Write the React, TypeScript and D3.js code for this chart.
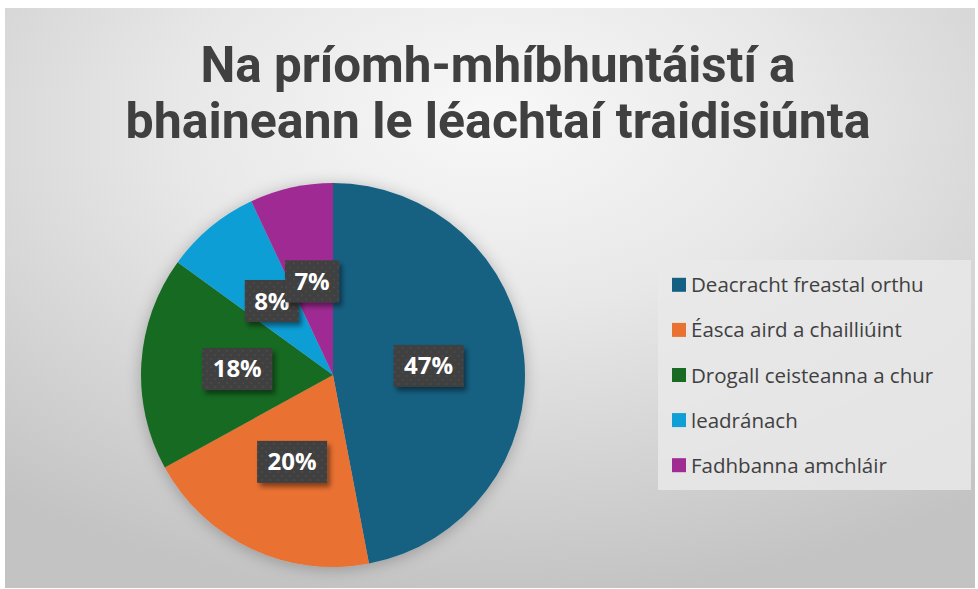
import React from "react";
import * as d3 from "d3";

const titleLines = ["Na príomh-mhíbhuntáistí a", "bhaineann le léachtaí traidisiúnta"];
const categories = [
  "Deacracht freastal orthu",
  "Éasca aird a chailliúint",
  "Drogall ceisteanna a chur",
  "leadránach",
  "Fadhbanna amchláir",
];
const values = [47, 20, 18, 8, 7];
const colors = ["#156082", "#E97132", "#196B24", "#0F9ED5", "#A02B93"];

const W = 978;
const H = 589;

export default function App() {
  const cx = 333;
  const cy = 375;
  const R = 192;
  const total = d3.sum(values);
  const pie = d3.pie<number>().sort(null).value((d) => d)(values);
  const arc = d3.arc<d3.PieArcDatum<number>>().innerRadius(0).outerRadius(R);
  const fmt = (v: number) => `${Math.round((v / total) * 100)}%`;

  const legendY = d3.scaleBand<number>().domain(d3.range(categories.length)).range([260, 490]).paddingOuter(0.05);

  return (
    <svg
      width={W}
      height={H}
      style={{ position: "absolute", left: 0, top: 0, display: "block" }}
      fontFamily="'Open Sans', sans-serif"
    >
      <defs>
        <radialGradient id="bg" cx="0.5" cy="0.22" r="0.8" fx="0.5" fy="0.18">
          <stop offset="0" stopColor="#f8f8f8" />
          <stop offset="0.4" stopColor="#e8e8e8" />
          <stop offset="1" stopColor="#c3c3c3" />
        </radialGradient>
        <filter id="pieShadow" x="-20%" y="-20%" width="140%" height="140%">
          <feGaussianBlur in="SourceAlpha" stdDeviation="8" />
          <feOffset dx="0" dy="2" result="b" />
          <feComponentTransfer>
            <feFuncA type="linear" slope="0.25" />
          </feComponentTransfer>
          <feMerge>
            <feMergeNode />
            <feMergeNode in="SourceGraphic" />
          </feMerge>
        </filter>
        <filter id="boxShadow" x="-30%" y="-30%" width="170%" height="170%">
          <feGaussianBlur in="SourceAlpha" stdDeviation="2.5" />
          <feOffset dx="3" dy="4" />
          <feComponentTransfer>
            <feFuncA type="linear" slope="0.45" />
          </feComponentTransfer>
          <feMerge>
            <feMergeNode />
            <feMergeNode in="SourceGraphic" />
          </feMerge>
        </filter>
        <pattern id="dots" width="8" height="8" patternUnits="userSpaceOnUse">
          <rect width="8" height="8" fill="#3f3f3f" />
          <circle cx="2" cy="2" r="0.8" fill="#555" />
          <circle cx="6" cy="6" r="0.8" fill="#555" />
        </pattern>
      </defs>

      <rect x={0} y={0} width={W} height={H} fill="#ffffff" />
      <rect x={5} y={8} width={970} height={580} fill="url(#bg)" />

      {titleLines.map((t, i) => (
        <text
          key={i}
          x={W / 2 + 9}
          y={82 + i * 56}
          textAnchor="middle"
          fontFamily="Roboto, 'Open Sans', sans-serif"
          fontWeight={700}
          fontSize={50}
          fill="#404040"
          textLength={i === 0 ? 595 : 745}
          lengthAdjust="spacingAndGlyphs"
        >
          {t}
        </text>
      ))}

      <g transform={`translate(${cx},${cy})`} filter="url(#pieShadow)">
        {pie.map((d, i) => (
          <path key={i} d={arc(d) || ""} fill={colors[i]} />
        ))}
      </g>

      <g transform={`translate(${cx},${cy})`}>
        {pie.map((d, i) => {
          const [lx, ly] = arc.centroid(d);
          const label = fmt(d.data);
          const bw = 22 + 16 * label.length;
          const bh = 42;
          return (
            <g key={i} transform={`translate(${lx},${ly})`}>
              <rect
                x={-bw / 2}
                y={-bh / 2}
                width={bw}
                height={bh}
                fill="url(#dots)"
                filter="url(#boxShadow)"
              />
              <text
                x={0}
                y={8.5}
                textAnchor="middle"
                fontWeight={700}
                fontSize={24}
                fill="#ffffff"
              >
                {label}
              </text>
            </g>
          );
        })}
      </g>

      <rect x={658} y={260} width={313} height={230} fill="#e9e9e9" opacity={0.85} />
      {categories.map((c, i) => {
        const yc = (legendY(i) as number) + legendY.bandwidth() / 2;
        return (
          <g key={i}>
            <rect x={672} y={yc - 7} width={14} height={14} fill={colors[i]} />
            <text x={691} y={yc + 7.5} fontSize={20.5} fill="#404040">
              {c}
            </text>
          </g>
        );
      })}
    </svg>
  );
}
